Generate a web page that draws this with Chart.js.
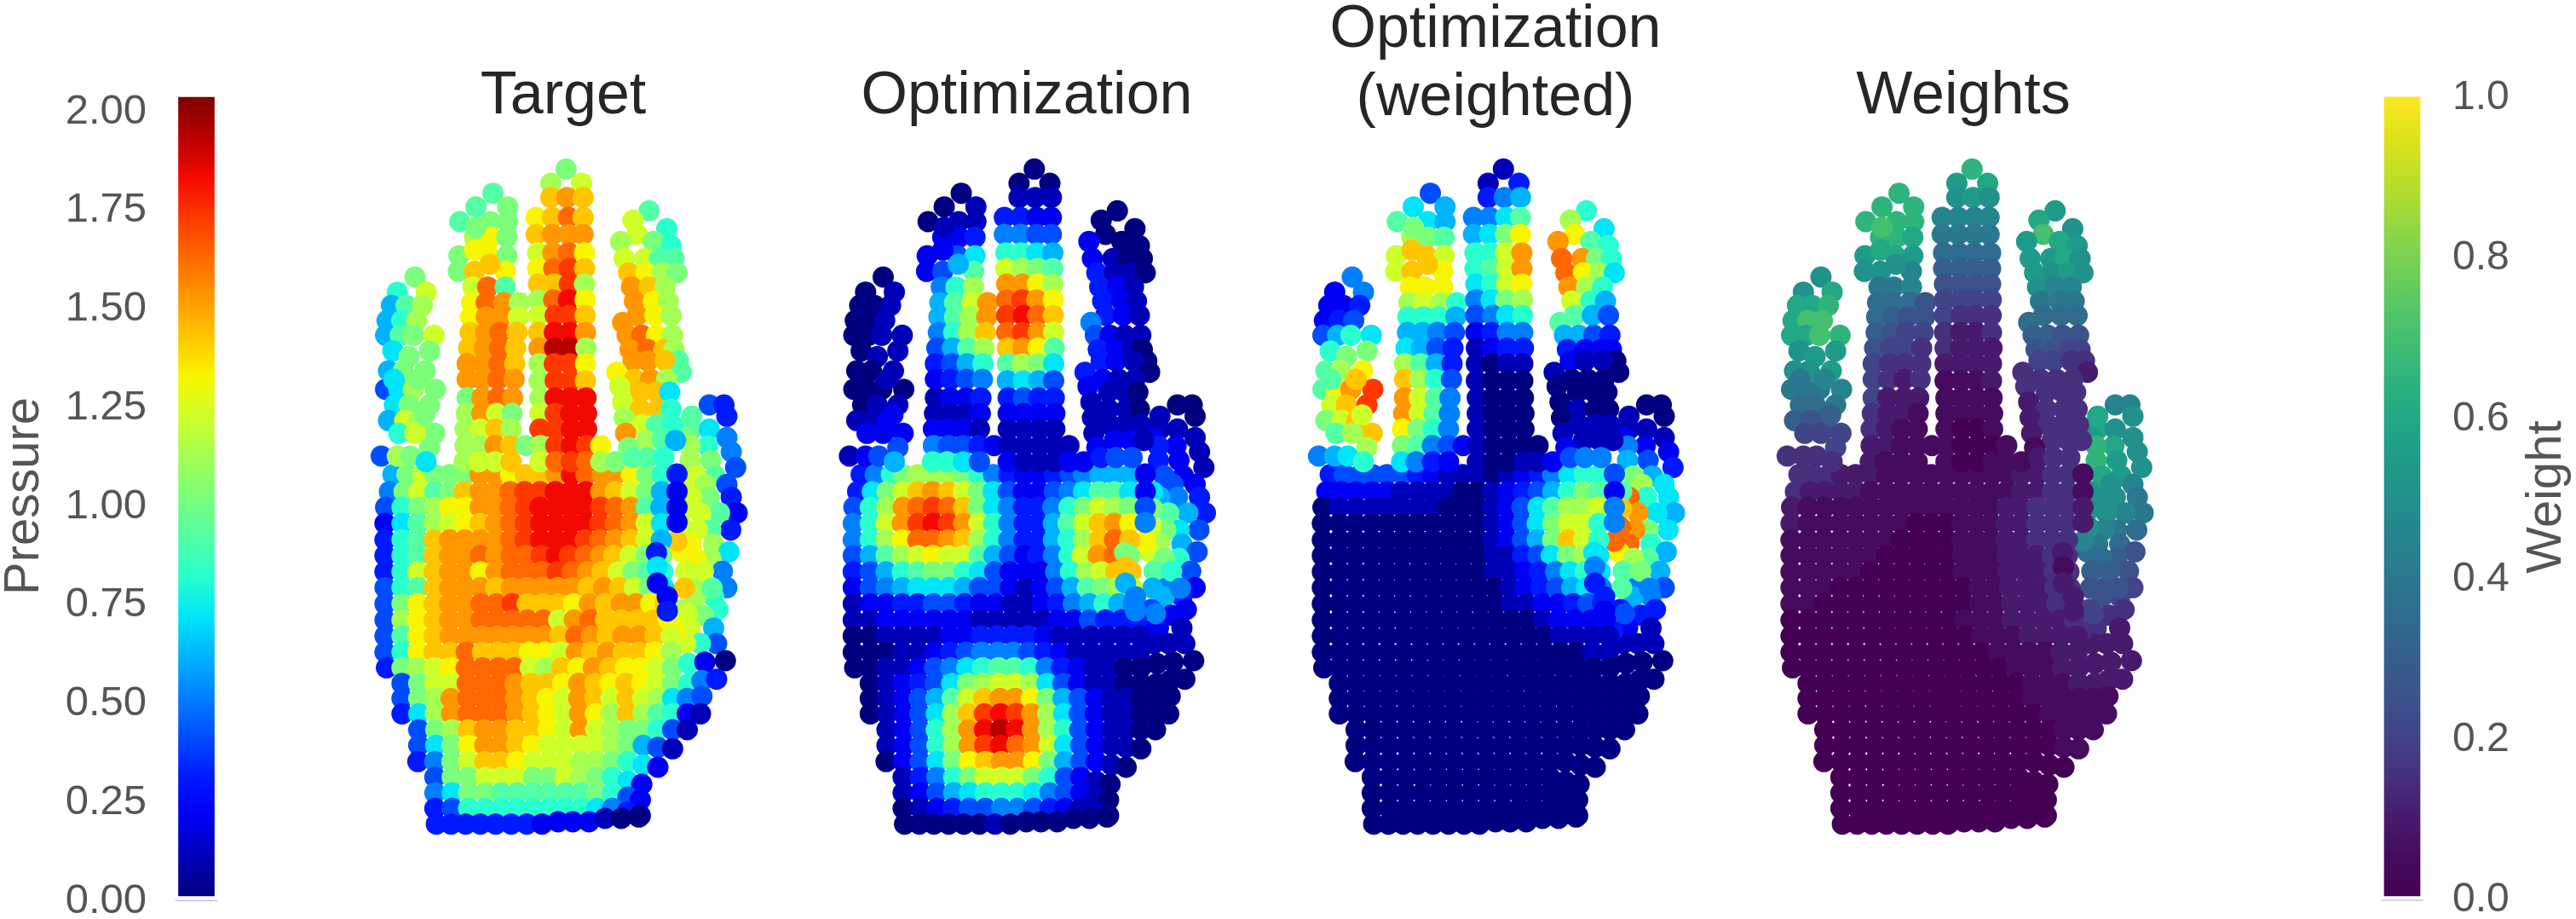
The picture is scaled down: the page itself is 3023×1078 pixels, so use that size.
<!DOCTYPE html>
<html>
<head>
<meta charset="utf-8">
<title>Hand pressure</title>
<script src="https://cdn.jsdelivr.net/npm/chart.js@4"></script>
<style>
body { margin: 0; background: #fff; width: 3023px; height: 1078px; overflow: hidden; position: relative; }
canvas { position: absolute; }
</style>
</head>
<body>
<script>
// sensor rows of the glove: first number is y, the rest are x
// (a pair is a sensor that sits off its row because the glove is slanted there)
const handRows = [
  // thumb
  [945,1225,1275],[985,1165,1285],[1030,1165,1225],[1060,1285,1145],[1090,1220,1160],[1110,1300],[1140,1230,1160],[1165,1315],
  [1195,1245,1180],[1225,1285,1210],[1270,1300,1225,1165],[1325,1320,1260,1195],[1385,1298,1230,1185],[1435,1240,1165],[1462,1292,1130],
  [1485,1230,1180],[1530,1270,1145],[1588,1285,1190],[1620,1240,1180],[1665,1255,1135],[1685,1205],[1730,1240,1160],[1785,1250,1195,1145],
  [1250,1140],[1310,1140],[1375,1135],[1425,1115],[1530,1205],[1590,1140,1235],[1680,1150],[1740,1110],
  // palm
  [1190,147,195,250,290,340,395,444,495,548,598,650,703,755,805,860,905,960,1012,1065],
  [1250,135,185,235,290,340,390,444,495,546,596,648,700,752,805,855,905,958,1010,1062],
  [1305,122,178,235,290,340,392,444,496,546,598,648,700,750,800,855,905,958,1010,1060],
  [1362,120,178,232,287,340,392,444,496,548,598,650,702,752,802,852,905,958,1010,1062],
  [1420,120,178,232,287,340,392,444,496,548,598,650,702,752,802,852,905,958,1010,1062],
  [1475,120,178,232,287,340,392,445,497,549,600,652,704,748,802,855,900,955,1010,1062],
  [1532,120,178,232,287,340,392,445,498,550,602,654,706,758,810,860,915,965,1015,1067],
  [1588,120,178,232,287,340,393,446,498,550,603,655,708,760,812,865,918,970,1020,1070],
  [1645,120,178,232,287,340,393,447,500,553,605,658,710,763,816,870,925,975,1025,1075],
  [1702,120,178,232,287,340,395,448,500,553,606,660,712,765,818,872,925,980,1035,1085],
  [1758,120,178,232,287,342,397,450,503,556,610,663,716,770,823,876,930,985,1040,1095],
  [1815,120,178,232,287,342,397,452,505,558,612,665,718,772,825,878,932,985,1040,1095],
  [1870,125,178,232,287,342,397,452,507,560,615,668,722,777,830,885,940,992,1045,1100,[1155,1855],[1210,1850],[1280,1845]],
  [1925,178,235,290,345,400,455,510,563,618,672,725,780,835,887,940,995,1045,1100,1155,[1200,1915],[1250,1910]],
  [1978,178,235,290,345,402,457,510,565,620,672,727,780,835,890,945,998,1050,1100,1150,[1200,1970]],
  [2032,178,235,292,347,403,458,512,567,622,675,728,783,837,890,945,1000,1050,1100,1150,1195],
  [2088,235,293,348,403,458,513,567,622,675,730,785,838,892,947,1000,1050,1100,1150],
  [2143,235,293,348,405,460,515,568,622,677,732,787,840,895,948,1000,[1050,2150],[1100,2155]],
  [2200,232,290,348,405,460,515,570,625,680,733,787,840,895,948,[1000,2212],[1050,2220]],
  [2255,290,349,405,462,516,570,625,680,733,787,842,895,[948,2270],[995,2280]],
  [2310,290,349,405,462,516,570,625,680,735,790,842,895,[948,2325],[990,2335]],
  [2365,290,349,405,460,515,570,625,680,735,790,842,895,[945,2378],[990,2390]],
  [2420,295,345,395,445,497,550,603,655],[2412,710,760,815],[2400,870,925,[985,2395]],
  // little finger
  [495,222],[548,162,260],[595,142,192,247],[648,127,177,227],[700,122,172,217,287],[755,147,272],[775,202],[825,132,182,257],
  [890,122,167,217,292],[945,152,202,272],[1000,132,187,237],[1045,290,167,222],[1095,272],[1125,107,162,207],[1145,260],
  [855,235,150],[980,255],
  // ring finger
  [200,488],[248,430,538],[300,375,480,538],[355,425,480,535],[420,372,475,535],[475,370,425,530],[530,420,470,530],
  [585,415,465,525,578],[635,412,465,518,575],[690,410,462,512,570],[745,405,458,510,565],[800,400,455,508,562],[855,400,452,505,560],
  [920,400,450,505,555],[975,397,450,500,553],[1030,393,445,497,550],[1088,393,445,495,548,600],[1145,390,440,495,550],
  [320,430],[400,425],[450,478],
  // middle finger
  [115,737],[165,685,790],[215,685,740,795],[285,635,690,745,795],[345,635,690,745,795],[410,640,692,745,800],[465,640,695,748,800],
  [520,643,697,748,800],[575,643,695,745,802],[630,643,700,748,802],[690,643,697,750,803],[745,645,698,750,805],[800,645,697,750,803],
  [860,645,700,752,803],[920,648,700,752,805],[975,648,700,752,807],[1030,648,702,755,807],[1088,650,702,755,807,855],[1145,648,702,755,807,855,905],
  // index finger
  [262,1020],[295,965],[325,1080],[345,980],[370,1035,923],[385,1095],[430,935,1005,1055,1105],[480,950,1010,1065,1115],[530,960,1020,1075],
  [580,970,1035,1085],[630,980,1040,1095],[655,930],[700,945,995,1045,1100],[750,955,1015,1070,1105],[790,1120,965,1015,1075],[830,910,1130],
  [855,970,1025,1080],[880,920],[900,990,1045,1090],[935,930],[960,990,1050,1095],[990,935],[1015,995,1045,1100],[1045,940],
  [1070,1010,1065,1110],[1095,950],[1130,965,1015,1070],
  // loose sensors on top of the palm edge
  [1188,1115],[1250,1115],[1305,1115],[1358,1115],[1465,1045],[1515,1048],[1572,1048],[1620,1082],[1670,1082]
];

// one token per row, one base-21 digit per sensor (0..k)
const targetCodes = `
43 93 97 5a 8b 5 ab 4 9c 4b 3ac 29c 39c bd 7d bd 5c 5b 8b 8b a 6c 48c
c c c e c e9 c d
6acaaaffdeefigffda8 5ac9aeffghhiiifeca6 48abddffghiiiihgf96 279bcdefghiiiihgfc7 389effffghiiihgfec6 389effgfgghihgfecaa
38ceffdfggghgfeca98 489efffefffffefeca7 4adeffggheeedfeffde 4bdeffgggggcfgeeeed 49defffffffegfeffec 48deegeeeddcfefeedb
3abcdggggcbedfeddca820 4accgggfeedfededca853 4abfgggfedcfececb754 37bfgggfedcfdbeb9821 4abeffeedcfcbaa841 47adffedccccba641
35aceedcccbba872 4aacccaacba872 57aa999999a842 34888888887531 33333332 222 100
a 8c 69b 68b 69ac 7a a 6aa 47ba 7aa 6cb a8c a 4ba 7 a7 a
9 9a 9aa bda ada aed cg9 dgfb dffc efge efge ffge ffgf afgf bfca bceb bbfea bcce
a d e
a bc efe dege efff cfgd dghe eehb bgid chhe eiif fjjb bhhd bhhe biii chii hhii bhihd cghgba
9 c 8 c ab 8 cc99 edba feb fdb fdb f fgdb fgeb 9ffe d9 efb c ee7 c ee8 b c98 f b96 a 998
3 2 2 2 3 7 2 2 3`;

const optimCodes = `
00 10 11 12 23 1 23 1 24 24 356 369 47a 6b 4c 8a 49 25 36 24 2 12 111
7 a c d 8 65 5 2
358abbba85322345666 37acefeca7422457997 48bfghgea753358acba 58cfhihfc853369cefd 58bdggfeb853368bege 469bcdcc9642358cfga
34689aa87422258bcee 2456777644212469abc 1223344322112356865 1122222211111224333 0011112233332111111 0001123455543211111
0011245789985321100000 012347abccb7421100000 012469ceffda64211000 01247behihfb74211000 1248bfijifb8421100 1248bfhigfc742110
0247adeffda64210 1358accca84210 12467888754210 01234455432110 00000010 000 000
0 01 001 001 0011 01 1 001 0000 011 112 222 4 124 6 10 2
0 01 011 223 247 249 58b 69cf 69bf 58be 469b 3468 2345 1223 1112 2221 54432 8874
1 2 6
0 00 111 3322 5544 8876 cba9 ffdb ghfd hige ghfc efd9 9ba7 6764 3433 2222 1111 11111 211122
0 0 0 0 02 0 2100 3110 321 321 321 5 4211 3210 0321 30 211 2 110 1 110 1 111 1 221 2 344
2 2 4 5 a e 6 5 5`;

const weightedCodes = `
00 10 11 12 25 2 46 3 6a 7b 78g 67f 7af 8g 6d 9b 69 45 56 33 3 12 111
9 e g g a 95 4 3
3444443211101235788 22222111100123468a9 0111111100012479bbc 000000000001247acc8 000000000001246aec8 0000000000011347ab7
0000000000011235787 0000000000001234675 0000000000001122343 0000000000000012222 0000000000000001111 0000000000000000011
0000000000000000000000 000000000000000000000 00000000000000000000 00000000000000000000 000000000000000000 00000000000000000
0000000000000000 00000000000000 00000000000000 00000000000000 00000000 000 000
5 25 223 234 4687 8a a 9bd 9dfh ceh ace e9b b 567 8 e9 c
4 76 976 ba9 cec ced ddd bcb8 8886 6654 7643 b963 eb84 fc95 fc95 da85 a9542 7532
a e e
1 13 356 5579 67ad 88cf 89cf 78cd 57ab 4578 2355 1233 1011 1000 1000 1000 1000 10000 100112
8 b 7 d 9f 8 gfa8 gdb7 fb8 c86 964 9 6643 3222 0211 10 000 0 000 0 100 0 111 1 111 2 455
4 2 5 5 7 5 3 3 2`;

const weightCodes = `
99 ca ca ab cd a bd a bc 9a 8aa 89a 789 78 57 67 56 45 45 34 3 23 222
a a a 9 6 55 4 3
3332221111111112233 3222211111111112233 2111111111111122333 2111111100011122333 1111111000011122333 1111110000011122233
1111100000011122233 1110000000001122233 1100000000001122233 0000000000011122223 0000000000001112222 0000000000000111122
0000000000000011122222 000000000000001112222 00000000000000111111 00000000000000011111 000000000000000111 00000000000000011
0000000000000000 00000000000000 00000000000000 00000000000000 00000000 000 000
a ac ccd cee cced ab b aab 8889 778 655 444 4 333 3 98 6
d dd ddd ddc bcb aa9 889 7775 7655 6544 5443 4333 4323 4222 3221 3211 22111 2111
e c a
d bc aba 9999 8888 7777 6666 5555 4444 4333 3223 3222 2222 1112 1111 1111 1001 10001 100111
b c a e cb b bbca baba a99 888 777 7 6655 5544 3443 32 333 3 333 2 333 2 333 2 333 1 233
1 1 2 2 2 1 2 2 2`;

const panelTitles = ['Target', 'Optimization', ['Optimization', '(weighted)'], 'Weights'];
const pressureTicks = [0, 0.25, 0.5, 0.75, 1, 1.25, 1.5, 1.75, 2];
const weightTicks = [0, 0.2, 0.4, 0.6, 0.8, 1];
const pressureBar = [0.013, 2.0367];
const weightBar = [0.0053, 1.0011];

const jet = ['#000080','#0000b9','#0000f3','#0019ff','#004dff','#0080ff','#00b3ff','#00e5f8','#29ffce','#53ffa4','#7bff7b',
  '#a4ff53','#ceff29','#f8f500','#ffc600','#ff9700','#ff6800','#ff3800','#f30900','#b90000','#800000'];
const viridis = ['#440154','#460b5e','#481a6c','#47307e','#414487','#3b528b','#355f8d','#2f6c8e','#2a788e','#25848e','#21918c',
  '#1e9c89','#22a884','#2fb47c','#44bf70','#5ec962','#7ad151','#9bd93c','#bddf26','#dfe318','#fde725'];

Chart.defaults.font.family = '"Liberation Sans", Arial, sans-serif';
Chart.defaults.animation = false;

function addCanvas(left, top, width, height) {
  const canvas = document.createElement('canvas');
  canvas.width = width;
  canvas.height = height;
  canvas.style.left = left + 'px';
  canvas.style.top = top + 'px';
  canvas.style.width = width + 'px';
  canvas.style.height = height + 'px';
  document.body.appendChild(canvas);
  return canvas;
}

function handDataset(codes, colors, unit) {
  const tokens = codes.trim().split(/\s+/);
  const points = [];
  const fill = [];
  handRows.forEach((row, r) => {
    row.slice(1).forEach((p, i) => {
      const level = parseInt(tokens[r][i], 21);
      const x = Array.isArray(p) ? p[0] : p;
      const y = Array.isArray(p) ? p[1] : row[0];
      points.push({ x: x, y: y, v: level * unit });
      fill.push(colors[level]);
    });
  });
  return { data: points, backgroundColor: fill, pointRadius: 12.5, pointBorderWidth: 0, clip: false };
}

const panels = [
  { codes: targetCodes, colors: jet, unit: 0.1, center: 661, shift: -549.5 },
  { codes: optimCodes, colors: jet, unit: 0.1, center: 1205, shift: 0 },
  { codes: weightedCodes, colors: jet, unit: 0.1, center: 1755, shift: 550.5 },
  { codes: weightCodes, colors: viridis, unit: 0.05, center: 2304, shift: 1100.5 }
];

panels.forEach((p, i) => {
  const left = p.center - 270;
  const twoLines = Array.isArray(panelTitles[i]);
  new Chart(addCanvas(left, -10, 540, 1088), {
    type: 'scatter',
    data: { datasets: [handDataset(p.codes, p.colors, p.unit)] },
    options: {
      responsive: false,
      events: [],
      layout: { autoPadding: false, padding: 0 },
      plugins: {
        legend: { display: false },
        tooltip: { enabled: false },
        title: {
          display: true,
          text: panelTitles[i],
          color: '#262626',
          font: { size: 70, weight: 'normal', lineHeight: 1.145 },
          padding: twoLines ? { top: 5.5, bottom: 4.2 } : { top: 83.5, bottom: 6.35 }
        }
      },
      scales: {
        x: { type: 'linear', display: false, min: (left - 960 - p.shift) * 2.904, max: (left + 540 - 960 - p.shift) * 2.904 },
        y: { type: 'linear', display: false, reverse: true, min: 0, max: 2754 }
      }
    }
  });
});

function barGradient(context, colors, bar) {
  const { ctx, chartArea, scales } = context.chart;
  if (!chartArea) return colors[0];
  const g = ctx.createLinearGradient(0, scales.y.getPixelForValue(bar[0]), 0, scales.y.getPixelForValue(bar[1]));
  colors.forEach((c, i) => g.addColorStop(i / (colors.length - 1), c));
  return g;
}

function colorbar(canvas, opts) {
  return new Chart(canvas, {
    type: 'bar',
    data: {
      labels: [''],
      datasets: [
        { data: [opts.bar], backgroundColor: c => barGradient(c, opts.colors, opts.bar), barThickness: 42, grouped: false },
        { data: [opts.rule], backgroundColor: '#c3c3e6', barThickness: 49, grouped: false }
      ]
    },
    options: {
      responsive: false,
      events: [],
      layout: { autoPadding: false, padding: { top: 100, bottom: 14 } },
      plugins: { legend: { display: false }, tooltip: { enabled: false } },
      scales: {
        x: { display: false },
        y: {
          position: opts.position,
          min: opts.min,
          max: opts.max,
          afterBuildTicks: s => { s.ticks = opts.ticks.map(v => ({ value: v })); },
          afterFit: s => { s.width = opts.axisWidth; s.paddingTop = 0; s.paddingBottom = 0; },
          grid: { display: false, drawTicks: false },
          border: { display: false },
          ticks: {
            autoSkip: false,
            padding: 8,
            color: '#555555',
            font: { size: opts.tickSize },
            callback: v => v.toFixed(opts.digits)
          },
          title: opts.title
        }
      }
    },
    plugins: opts.plugins || []
  });
}

colorbar(addCanvas(0, 0, 281, 1078), {
  colors: jet,
  bar: pressureBar,
  rule: [0, 0.0022],
  ticks: pressureTicks,
  digits: 2,
  tickSize: 49,
  position: 'left',
  min: -0.0151,
  max: 2.067,
  axisWidth: 180,
  title: { display: true, text: 'Pressure', color: '#555555', font: { size: 58, lineHeight: 1 }, padding: 0 }
});

// chart.js turns a right axis title the other way, so this one is drawn by hand
const weightLabel = {
  id: 'weightLabel',
  afterDraw(chart) {
    const ctx = chart.ctx;
    ctx.save();
    ctx.translate(237, 583);
    ctx.rotate(-Math.PI / 2);
    ctx.font = '58px "Liberation Sans", Arial, sans-serif';
    ctx.fillStyle = '#555555';
    ctx.textAlign = 'center';
    ctx.textBaseline = 'alphabetic';
    ctx.fillText('Weight', 0, 0);
    ctx.restore();
  }
};

colorbar(addCanvas(2768, 0, 255, 1078), {
  colors: viridis,
  bar: weightBar,
  rule: [-0.0005, 0.0005],
  ticks: weightTicks,
  digits: 1,
  tickSize: 48,
  position: 'right',
  min: -0.0085,
  max: 1.0159,
  axisWidth: 153,
  title: { display: false },
  plugins: [weightLabel]
});
</script>
</body>
</html>
